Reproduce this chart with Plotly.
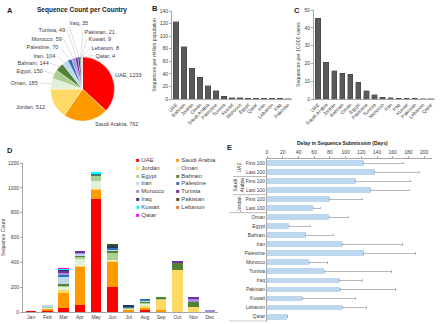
import math
import plotly.graph_objects as go

W, H = 440, 324

# ---------------- Data ----------------
pie_countries = ["UAE", "Saudi Arabia", "Jordan", "Oman", "Egypt", "Bahrain", "Iran",
                 "Palestine", "Morocco", "Tunisia", "Iraq", "Pakistan", "Kuwait", "Lebanon", "Qatar"]
pie_counts = [1233, 762, 512, 185, 150, 144, 104, 70, 59, 49, 35, 21, 9, 8, 4]

country_colors = {
    "UAE": "#FF0000", "Saudi Arabia": "#FF9900", "Jordan": "#FFD966", "Oman": "#E2EFDA",
    "Egypt": "#A9D08E", "Bahrain": "#548235", "Iran": "#BDD7EE", "Palestine": "#2E75B6",
    "Morocco": "#A98BE0", "Tunisia": "#7030A0", "Iraq": "#1F3864", "Pakistan": "#375623",
    "Kuwait": "#00FFFF", "Lebanon": "#ED7D31", "Qatar": "#FF00FF",
}

b_countries = ["UAE", "Bahrain", "Jordan", "Oman", "Saudi Arabia", "Palestine", "Tunisia", "Kuwait",
               "Morocco", "Egypt", "Qatar", "Iran", "Lebanon", "Iraq", "Pakistan"]
b_values = [123, 83, 49, 35, 21, 13, 4, 2.1, 1.6, 1.5, 1.4, 1.2, 1.2, 0.9, 0.3]

c_countries = ["UAE", "Saudi Arabia", "Jordan", "Bahrain", "Oman", "Egypt", "Palestine", "Tunisia",
               "Morocco", "Iran", "Iraq", "Kuwait", "Pakistan", "Lebanon", "Qatar"]
c_values = [45.3, 20.6, 15.8, 14.5, 13.8, 9.3, 4.5, 2.3, 1.1, 0.7, 0.5, 0.4, 0.3, 0.2, 0.2]

months = ["Jan", "Feb", "Mar", "Apr", "May", "Jun", "Jul", "Aug", "Sep", "Oct", "Nov", "Dec"]
monthly_uae = [3, 15, 32, 54, 907, 200, 8, 20, 8, 0, 0, 0]
monthly_saudi = [0, 10, 124, 314, 78, 208, 14, 17, 6, 0, 0, 0]
monthly_jordan = [0, 5, 24, 5, 8, 3, 6, 14, 88, 336, 40, 0]
monthly_oman = [0, 8, 27, 57, 62, 5, 0, 11, 0, 0, 0, 0]
monthly_egypt = [0, 5, 5, 13, 45, 67, 7, 18, 5, 0, 0, 0]
monthly_bahrain = [0, 0, 10, 8, 5, 11, 0, 6, 6, 60, 48, 0]
monthly_iran = [0, 15, 65, 19, 0, 4, 0, 8, 0, 0, 0, 0]
monthly_palestine = [0, 0, 13, 0, 8, 24, 10, 5, 0, 0, 0, 0]
monthly_morocco = [0, 0, 19, 10, 0, 0, 0, 0, 0, 0, 15, 12]
monthly_tunisia = [0, 0, 16, 9, 0, 0, 0, 0, 0, 12, 21, 0]
monthly_iraq = [0, 0, 4, 0, 4, 16, 6, 0, 0, 0, 0, 0]
monthly_pakistan = [0, 0, 4, 0, 0, 5, 0, 0, 0, 0, 0, 0]
monthly_kuwait = [0, 0, 4, 0, 5, 0, 0, 0, 0, 0, 0, 0]
monthly_lebanon = [0, 0, 3, 0, 0, 0, 0, 0, 0, 0, 0, 0]
monthly_qatar = [0, 0, 4, 0, 0, 0, 0, 0, 0, 0, 0, 0]
monthly_series = [
    ("UAE", monthly_uae), ("Saudi Arabia", monthly_saudi), ("Jordan", monthly_jordan),
    ("Oman", monthly_oman), ("Egypt", monthly_egypt), ("Bahrain", monthly_bahrain),
    ("Iran", monthly_iran), ("Palestine", monthly_palestine), ("Morocco", monthly_morocco),
    ("Tunisia", monthly_tunisia), ("Iraq", monthly_iraq), ("Pakistan", monthly_pakistan),
    ("Kuwait", monthly_kuwait), ("Lebanon", monthly_lebanon), ("Qatar", monthly_qatar),
]

e_keys = ["UAE First", "UAE Last", "Saudi First", "Saudi Last", "Jordan First", "Jordan Last",
          "Oman", "Egypt", "Bahrain", "Iran", "Palestine", "Morocco", "Tunisia", "Iraq",
          "Pakistan", "Kuwait", "Lebanon", "Qatar"]
e_labels = ["First 100", "Last 100", "First 100", "Last 100", "First 100", "Last 100",
            "Oman", "Egypt", "Bahrain", "Iran", "Palestine", "Morocco", "Tunisia", "Iraq",
            "Pakistan", "Kuwait", "Lebanon", "Qatar"]
e_delay = [123, 137, 113, 132, 80, 59, 79, 28, 49, 96, 123, 54, 73, 92, 93, 45, 96, 26]
e_upper = [174, 194, 183, 181, 122, 68, 104, 55, 85, 173, 189, 77, 159, 121, 164, 112, 126, 26]
e_groups = [("UAE", 0, 1), ("Saudi<br>Arabia", 2, 3), ("Jordan", 4, 5)]

# ---------------- Layout helpers ----------------
FONT = "Arial, Liberation Sans, sans-serif"
TXT = "#404040"
AX = "#A6A6A6"


def px(x):
    return x / W


def py(y):
    return 1 - y / H


# pie placement (pixels) and label text anchors (pixels, side)
PIE_X0, PIE_X1, PIE_Y0, PIE_Y1 = 50, 115, 57, 121
pie_label_layout = {
    "UAE": (113, 75, "left", False),
    "Saudi Arabia": (93, 124, "left", False),
    "Jordan": (47, 107, "right", False),
    "Oman": (39, 83, "right", True),
    "Egypt": (44, 71, "right", True),
    "Bahrain": (50, 63, "right", True),
    "Iran": (57, 56, "right", True),
    "Palestine": (60, 47, "right", True),
    "Morocco": (63, 38, "right", True),
    "Tunisia": (67, 29, "right", True),
    "Iraq": (68, 22, "left", True),
    "Pakistan": (83, 31, "left", True),
    "Kuwait": (87, 39, "left", True),
    "Lebanon": (90, 48, "left", True),
    "Qatar": (94, 55, "left", True),
}

fig = go.Figure()

# A: pie
fig.add_trace(go.Pie(
    labels=pie_countries, values=pie_counts, sort=False, direction="clockwise",
    marker=dict(colors=[country_colors[c] for c in pie_countries], line=dict(color="white", width=0.4)),
    textinfo="none",
    domain=dict(x=[px(PIE_X0), px(PIE_X1)], y=[py(PIE_Y1), py(PIE_Y0)]),
    showlegend=False, hoverinfo="skip",
))

# B
fig.add_trace(go.Bar(x=b_countries, y=b_values, xaxis="x", yaxis="y",
                     marker=dict(color="#595959", line=dict(color="#3A3A3A", width=0.4)),
                     showlegend=False))
# C
fig.add_trace(go.Bar(x=c_countries, y=c_values, xaxis="x2", yaxis="y2",
                     marker=dict(color="#595959", line=dict(color="#3A3A3A", width=0.4)),
                     showlegend=False))
# D
for name, vals in monthly_series:
    fig.add_trace(go.Bar(x=months, y=vals, name=name, xaxis="x3", yaxis="y3",
                         marker=dict(color=country_colors[name], line=dict(width=0)),
                         showlegend=False))
# E
fig.add_trace(go.Bar(
    x=e_delay, y=e_keys, orientation="h", xaxis="x4", yaxis="y4",
    marker=dict(color="#BDD7EE", line=dict(width=0)),
    error_x=dict(type="data", symmetric=False,
                 array=[u - d for u, d in zip(e_upper, e_delay)],
                 arrayminus=[0] * len(e_delay),
                 color="#A6A6A6", thickness=0.8, width=1.2),
    showlegend=False,
))

tick_font = dict(size=5, color=TXT, family=FONT)
common_y = dict(showgrid=False, zeroline=False, showline=True, linecolor=AX, linewidth=0.8,
                ticks="outside", ticklen=2, tickcolor=AX, tickfont=tick_font, automargin=False)
common_x = dict(showgrid=False, zeroline=False, showline=True, linecolor=AX, linewidth=0.8,
                ticks="", tickfont=tick_font, automargin=False)

fig.update_layout(
    width=W, height=H, margin=dict(l=0, r=0, t=0, b=0),
    paper_bgcolor="white", plot_bgcolor="white",
    font=dict(family=FONT, color=TXT, size=5),
    barmode="stack", bargap=0.35,
    xaxis=dict(domain=[px(172), px(292)], anchor="y", tickangle=-45, **common_x),
    yaxis=dict(domain=[py(99), py(11)], anchor="x", range=[0, 140], dtick=20,
               title=dict(text="Sequences per million population", font=dict(size=5, color=TXT), standoff=3),
               **common_y),
    xaxis2=dict(domain=[px(314), px(435)], anchor="y2", tickangle=-45, **common_x),
    yaxis2=dict(domain=[py(99), py(10)], anchor="x2", range=[0, 50], dtick=10,
                title=dict(text="Sequences per 10,000 cases", font=dict(size=5, color=TXT), standoff=3),
                **common_y),
    xaxis3=dict(domain=[px(23), px(218)], anchor="y3", tickangle=0, **common_x),
    yaxis3=dict(domain=[py(312), py(163)], anchor="x3", range=[0, 1200], dtick=200,
                title=dict(text="Sequence Count", font=dict(size=5, color=TXT), standoff=3),
                **common_y),
    xaxis4=dict(domain=[px(267), px(432)], anchor="y4", side="top", range=[0, 210],
                tickvals=list(range(0, 201, 20)), showgrid=False, zeroline=False,
                showline=True, linecolor=AX, linewidth=0.8, ticks="outside", ticklen=2,
                tickcolor=AX, tickfont=tick_font, automargin=False),
    yaxis4=dict(domain=[py(321.5), py(158.5)], anchor="x4", autorange="reversed",
                categoryorder="array", categoryarray=e_keys,
                tickvals=e_keys, ticktext=e_labels, showgrid=False, zeroline=False,
                showline=True, linecolor=AX, linewidth=0.8, ticks="", tickfont=tick_font,
                automargin=False),
)

ann = []
# panel letters
for letter, x, y in [("A", 5, 10), ("B", 150, 8), ("C", 292, 10), ("D", 5, 150), ("E", 225, 147)]:
    ann.append(dict(text=f"<b>{letter}</b>", x=px(x), y=py(y), xref="paper", yref="paper",
                    showarrow=False, xanchor="left", yanchor="middle",
                    font=dict(size=7.5, color="#222222", family=FONT)))
# pie title
ann.append(dict(text="<b>Sequence Count per Country</b>", x=px(82), y=py(10), xref="paper", yref="paper",
                showarrow=False, xanchor="center", yanchor="middle",
                font=dict(size=6.5, color="#222222", family=FONT)))

# pie labels derived from slice angles
cx = (PIE_X0 + PIE_X1) / 2
cy = (PIE_Y0 + PIE_Y1) / 2
r = min(PIE_X1 - PIE_X0, PIE_Y1 - PIE_Y0) / 2
total = sum(pie_counts)
cum = 0
for name, cnt in zip(pie_countries, pie_counts):
    mid = (cum + cnt / 2) / total * 2 * math.pi
    cum += cnt
    rimx = cx + r * math.sin(mid)
    rimy = cy - r * math.cos(mid)
    lx, ly, side, arrow = pie_label_layout[name]
    text = f"{name}, {cnt}"
    if arrow:
        ann.append(dict(text=text, x=px(rimx), y=py(rimy), xref="paper", yref="paper",
                        showarrow=True, arrowhead=0, arrowwidth=0.5, arrowcolor="#BFBFBF",
                        ax=lx - rimx, ay=ly - rimy, axref="pixel", ayref="pixel",
                        xanchor=side, yanchor="middle", standoff=0, borderpad=0.5,
                        font=dict(size=5.5, color=TXT, family=FONT)))
    else:
        ann.append(dict(text=text, x=px(lx), y=py(ly), xref="paper", yref="paper",
                        showarrow=False, xanchor=side, yanchor="middle",
                        font=dict(size=5.5, color=TXT, family=FONT)))

# E title
ann.append(dict(text="<b>Delay in Sequence Submission (Days)</b>", x=px(342), y=py(143), xref="paper",
                yref="paper", showarrow=False, xanchor="center", yanchor="middle",
                font=dict(size=5, color="#222222", family=FONT)))
# D legend (two columns)
names = [n for n, _ in monthly_series]
col1 = names[0::2]
col2 = names[1::2]
for col, x in [(col1, 134), (col2, 174)]:
    lines = [f'<span style="color:{country_colors[n]}">■</span> {n}' for n in col]
    ann.append(dict(text="<br>".join(lines), x=px(x), y=py(154.5), xref="paper", yref="paper",
                    showarrow=False, xanchor="left", yanchor="top", align="left",
                    font=dict(size=6, color=TXT, family=FONT)))
# E group labels
for label, i0, i1 in e_groups:
    ann.append(dict(text=label, x=px(239), y=(i0 + i1) / 2, xref="paper", yref="y4",
                    showarrow=False, textangle=-90, xanchor="center", yanchor="middle",
                    font=dict(size=5, color=TXT, family=FONT)))
fig.update_layout(annotations=ann)

# E group separators
shapes = []
for yv, x0 in [(1.5, 233), (3.5, 233), (5.5, 229), (17.5, 229)]:
    shapes.append(dict(type="line", xref="paper", yref="y4", x0=px(x0), x1=px(267), y0=yv, y1=yv,
                       line=dict(color=AX, width=0.8)))
fig.update_layout(shapes=shapes)

fig.write_html("out.html", config={"displayModeBar": False},
               post_script="document.body.style.margin='0';document.body.style.padding='0';")
